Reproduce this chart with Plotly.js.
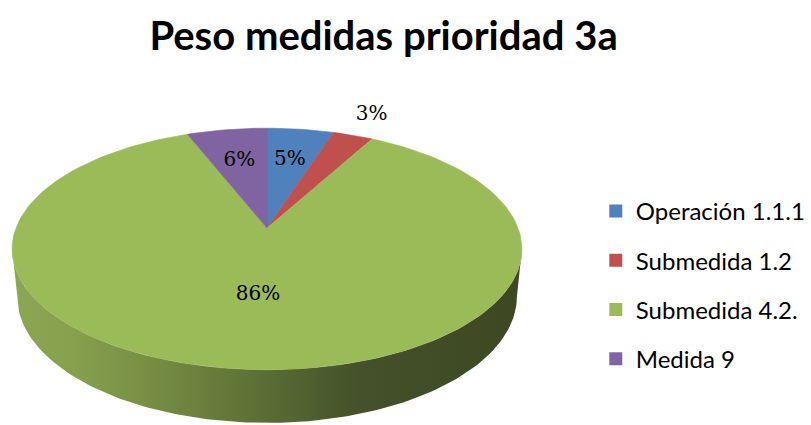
<!DOCTYPE html>
<html>
<head>
<meta charset="utf-8">
<script src="https://cdn.plot.ly/plotly-3.0.1.min.js"></script>
<style>html,body{margin:0;padding:0;background:#fff;}#chart{width:811px;height:425px;}</style>
</head>
<body>
<div id="chart"></div>
<script>
// ---- data ----
const categories = ['Operación 1.1.1', 'Submedida 1.2', 'Submedida 4.2.', 'Medida 9'];
const values = [5, 3, 86, 6];            // percent of total
const valueLabels = ['5%', '3%', '86%', '6%'];
const sliceColors = ['#4F81BD', '#C0504D', '#9BBB59', '#8064A2'];

// ---- 3D pie projection (layout constants) ----
const W = 811, H = 425;
const apexX = 268, apexY = 228;     // pie centre on screen
const F = 1285, D = 5.10;           // focal scale, camera distance
const tilt = 27.7 * Math.PI / 180;
const cT = Math.cos(tilt), sT = Math.sin(tilt);
const thick = 0.214;                // pie thickness (unit radius)
const labelRadius = [0.65, 1.26, 0.52, 0.65];

function proj(u, v, h) {
  const den = D + v * cT + h * sT;
  return [apexX + F * u / den, apexY - F * (v * sT - h * cT) / den];
}
function rim(theta, h) { return proj(Math.sin(theta), Math.cos(theta), h); }

const total = values.reduce((a, b) => a + b, 0);
const traces = [];

// side wall (front half), gradient shaded
const tA = 100 * Math.PI / 180, tB = 260 * Math.PI / 180;
const sx = [], sy = [];
const N = 120;
for (let i = 0; i <= N; i++) { const t = tA + (tB - tA) * i / N; const p = rim(t, 0); sx.push(p[0]); sy.push(p[1]); }
for (let i = N; i >= 0; i--) { const t = tA + (tB - tA) * i / N; const p = rim(t, thick); sx.push(p[0]); sy.push(p[1]); }
traces.push({
  type: 'scatter', mode: 'lines', x: sx, y: sy, fill: 'toself',
  fillgradient: { type: 'horizontal', colorscale: [[0, '#8da653'], [0.12, '#87a04e'], [0.3, '#738a41'], [0.5, '#5a6d34'], [0.68, '#44512a'], [1, '#3d4823']] },
  line: { width: 0 }, showlegend: false, hoverinfo: 'skip'
});

// top face slices
let cum = 0;
const lx = [], ly = [];
values.forEach((v, i) => {
  const t0 = 2 * Math.PI * cum / total;
  const t1 = 2 * Math.PI * (cum + v) / total;
  const px = [apexX], py = [apexY];
  const steps = Math.max(8, Math.round(200 * v / total));
  for (let k = 0; k <= steps; k++) { const p = rim(t0 + (t1 - t0) * k / steps, 0); px.push(p[0]); py.push(p[1]); }
  px.push(apexX); py.push(apexY);
  traces.push({
    type: 'scatter', mode: 'lines', x: px, y: py, fill: 'toself',
    fillcolor: sliceColors[i], line: { width: 0.6, color: sliceColors[i] },
    showlegend: false, hoverinfo: 'skip'
  });
  const tm = (t0 + t1) / 2, r = labelRadius[i];
  const lp = proj(r * Math.sin(tm), r * Math.cos(tm), 0);
  lx.push(lp[0]); ly.push(lp[1]);
  cum += v;
});

// data labels
traces.push({
  type: 'scatter', mode: 'text', x: lx, y: ly, text: valueLabels,
  textposition: 'middle center',
  textfont: { family: 'DejaVu Serif', size: 20, color: '#000' },
  showlegend: false, hoverinfo: 'skip'
});

// legend entries
categories.forEach((c, i) => {
  traces.push({
    type: 'scatter', mode: 'markers', x: [null], y: [null], name: c,
    legendgroup: 'g' + i,
    marker: { symbol: 'square', size: 13, color: sliceColors[i] }
  });
});

const layout = {
  width: W, height: H,
  margin: { l: 0, r: 0, t: 0, b: 0 },
  paper_bgcolor: '#fff', plot_bgcolor: '#fff',
  title: {
    text: '<b>Peso medidas prioridad 3a</b>',
    x: 385 / W, xanchor: 'center', xref: 'paper',
    y: 1 - 36 / H, yanchor: 'middle', yref: 'container',
    font: { family: 'Lato', size: 40, color: '#000' }
  },
  xaxis: { range: [0, W], visible: false, fixedrange: true },
  yaxis: { range: [H, 0], visible: false, fixedrange: true },
  showlegend: true,
  legend: {
    x: 598 / W, xanchor: 'left', y: 1 - 285 / H, yanchor: 'middle',
    font: { family: 'Lato', size: 24, color: '#000' },
    tracegroupgap: 15, bgcolor: 'rgba(0,0,0,0)', itemclick: false
  }
};

Plotly.newPlot('chart', traces, layout, { staticPlot: true, displayModeBar: false });
</script>
</body>
</html>
